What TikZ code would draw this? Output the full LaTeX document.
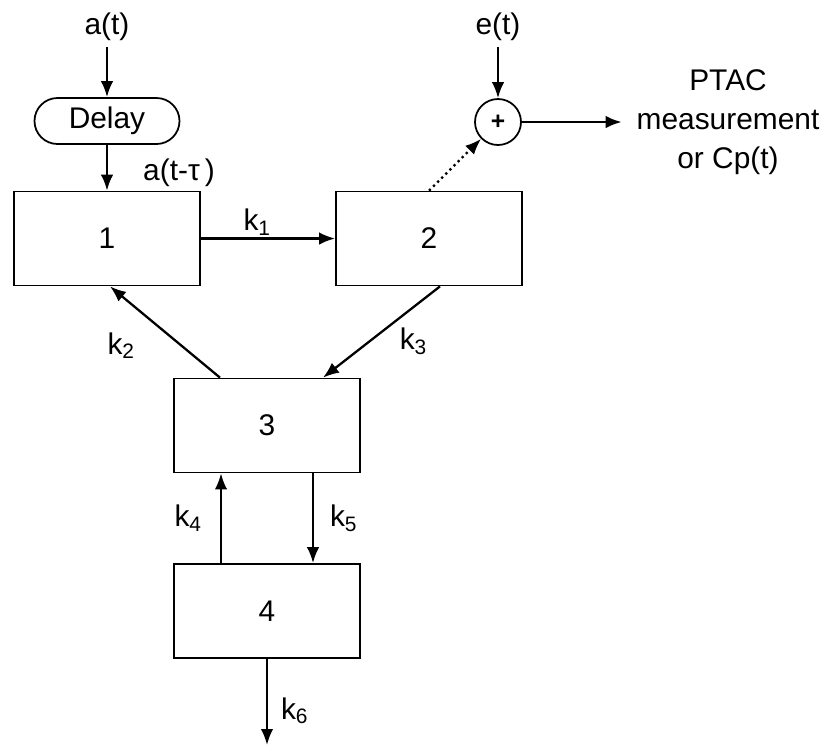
\documentclass[tikz,border=0pt]{standalone}
\usepackage{fontspec}
\setmainfont{Liberation Sans}
\usetikzlibrary{arrows.meta,positioning}

\begin{document}
\begin{tikzpicture}[
    font=\fontsize{17}{22}\selectfont,
    box/.style={rectangle, draw=black, line width=1pt, minimum width=3.72cm, minimum height=1.88cm},
    delaybox/.style={rectangle, draw=black, line width=1pt, rounded corners=0.46cm, minimum width=2.9cm, minimum height=0.92cm},
    sumnode/.style={circle, draw=black, line width=1pt, minimum size=0.92cm, inner sep=0pt, font=\fontsize{14}{14}\selectfont\bfseries},
    arrow/.style={-{Latex[length=0.32cm,width=0.25cm]}, line width=1.3pt}
]
\useasboundingbox (0,0) rectangle (16.6,-14.94);

% Nodes
\node (at) at (2.14,-0.54) {a(t)};
\node[delaybox] (delay) at (2.14,-2.42) {Delay};
\node (atau) at (3.58,-3.46) {a(t-τ\,)};
\node[box] (box1) at (2.14,-4.77) {1};
\node[box] (box2) at (8.58,-4.77) {2};
\node[box] (box3) at (5.34,-8.51) {3};
\node[box] (box4) at (5.34,-12.22) {4};
\node (et) at (9.96,-0.54) {e(t)};
\node[sumnode] (sum) at (9.96,-2.44) {+};
\node[align=center] (ptac) at (14.56,-2.44) {PTAC\\measurement\\or Cp(t)};
\coordinate (out6) at (5.34,-14.9);

% Edges
\draw[arrow] (at) -- (delay);
\draw[arrow] (delay) -- (box1);
\draw[arrow] (et) -- (sum);
\draw[arrow, shorten >=5pt] (sum) -- (ptac);
\draw[arrow, dotted] (box2.north) -- (sum);
\draw[arrow] (box1) -- node[pos=0.42, above=-2pt] {k\textsubscript{1}} (box2);
\draw[arrow] ([xshift=-0.94cm]box3.north) -- node[pos=0.35, left=0.79cm] {k\textsubscript{2}} ([xshift=0.06cm]box1.south);
\draw[arrow] ([xshift=0.22cm]box2.south) -- node[pos=0.6, right=0.46cm] {k\textsubscript{3}} ([xshift=1.12cm]box3.north);
\draw[arrow] ([xshift=-0.92cm]box4.north) -- node[left=0.24cm] {k\textsubscript{4}} ([xshift=-0.92cm]box3.south);
\draw[arrow] ([xshift=0.92cm]box3.south) -- node[right=0.2cm] {k\textsubscript{5}} ([xshift=0.92cm]box4.north);
\draw[arrow] (box4) -- node[pos=0.6, right=0.14cm] {k\textsubscript{6}} (out6);

\end{tikzpicture}
\end{document}
